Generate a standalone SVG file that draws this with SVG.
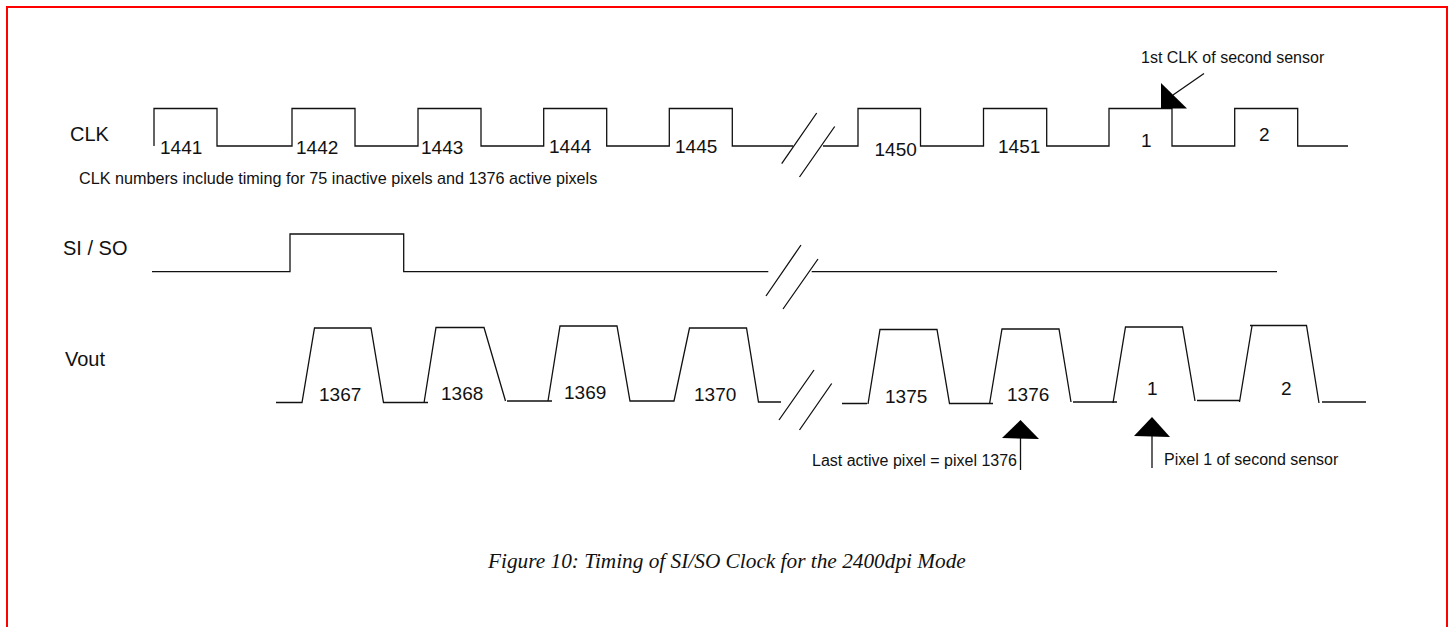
<svg xmlns="http://www.w3.org/2000/svg" width="1450" height="627" viewBox="0 0 1450 627">
<style>
.w{fill:none;stroke:#111;stroke-width:1.3}
.s{font-family:"Liberation Sans",Arial,sans-serif;fill:#111}
.a{font-size:19px}
.l{font-size:20px}
.b{font-size:16.2px}
.d{font-size:16px}
.c{font-family:"Liberation Serif","Times New Roman",serif;font-style:italic;font-size:21.3px;fill:#111}
.h{fill:#000;stroke:none}
</style>
<rect width="1450" height="627" fill="#fff"/>
<path id="frame" d="M7 627V7H1447V627" fill="none" stroke="#f00" stroke-width="2"/>
<g id="connectors">
<path class="w" d="M154 146V108.5H217V146H292V108.5H355V146H418V108.5H481V146H543.7V108.5H606.7V146H669.3V108.5H732.3V146H793M823 146H858V108.5H920.5V146H983.5V108.5H1046.7V146H1109V108.5H1172V146H1234.7V108.5H1297.7V146H1348"/>
<path class="w" d="M816.7 113L781.7 163.7M834.7 126.5L799.5 177"/>
<path class="w" d="M152 271.7H290V234H403.7V271.7H768.3M811.7 271.7H1277"/>
<path class="w" d="M801 245L766 296M818 259L783 309"/>
<path class="w" d="M276 402.5H302L314.5 328H371L383.5 402.5H428M424 403L436 327.5H484L505.5 401M507 401H552M548 401L560 326H617L630 401H674L689.5 328H746.5L758.5 402H781"/>
<path class="w" d="M814 370L779 420M831.7 383.5L799.5 430"/>
<path class="w" d="M842 403.5H867M868 404L880 329.5H937L949.5 403.5H993M989.5 404L1002 329H1059L1071 402M1073 402H1117M1113 403L1125.5 327H1182.5L1195 401M1197 400.5H1240M1239.5 402L1252 326M1250 325.5H1306.5L1319 403M1322 402H1366"/>
<path class="w" d="M1173 95L1204 73.5M1020.5 438V470M1152 436V468"/>
<path class="h" d="M1161 83V108.5H1187Z"/>
<path class="h" d="M1020.5 420L1002 438L1039 439Z"/>
<path class="h" d="M1152 417L1134 436L1170 437Z"/>
</g>
<g id="clk"><text class="s l" x="70" y="141">CLK</text>
<text class="s a" x="160" y="153.5">1441</text><text class="s a" x="296" y="153.5">1442</text><text class="s a" x="421" y="153.5">1443</text><text class="s a" x="549" y="152.5">1444</text><text class="s a" x="675" y="153">1445</text><text class="s a" x="874.5" y="156">1450</text><text class="s a" x="998" y="153">1451</text><text class="s a" x="1141" y="146.5">1</text><text class="s a" x="1259" y="141">2</text>
<text class="s b" x="79" y="184">CLK numbers include timing for 75 inactive pixels and 1376 active pixels</text>
<text class="s d" x="1141" y="63">1st CLK of second sensor</text></g>
<g id="si-so"><text class="s l" x="63" y="255">SI / SO</text></g>
<g id="vout"><text class="s l" x="65" y="366">Vout</text>
<text class="s a" x="319" y="401">1367</text><text class="s a" x="441" y="400">1368</text><text class="s a" x="564" y="399">1369</text><text class="s a" x="694" y="401">1370</text><text class="s a" x="885" y="403">1375</text><text class="s a" x="1007" y="401">1376</text><text class="s a" x="1147" y="395">1</text><text class="s a" x="1281" y="395">2</text>
<text class="s d" x="812" y="466">Last active pixel = pixel 1376</text>
<text class="s d" x="1164" y="465">Pixel 1 of second sensor</text></g>
<text id="caption" class="c" x="488" y="568">Figure 10: Timing of SI/SO Clock for the 2400dpi Mode</text>
</svg>
